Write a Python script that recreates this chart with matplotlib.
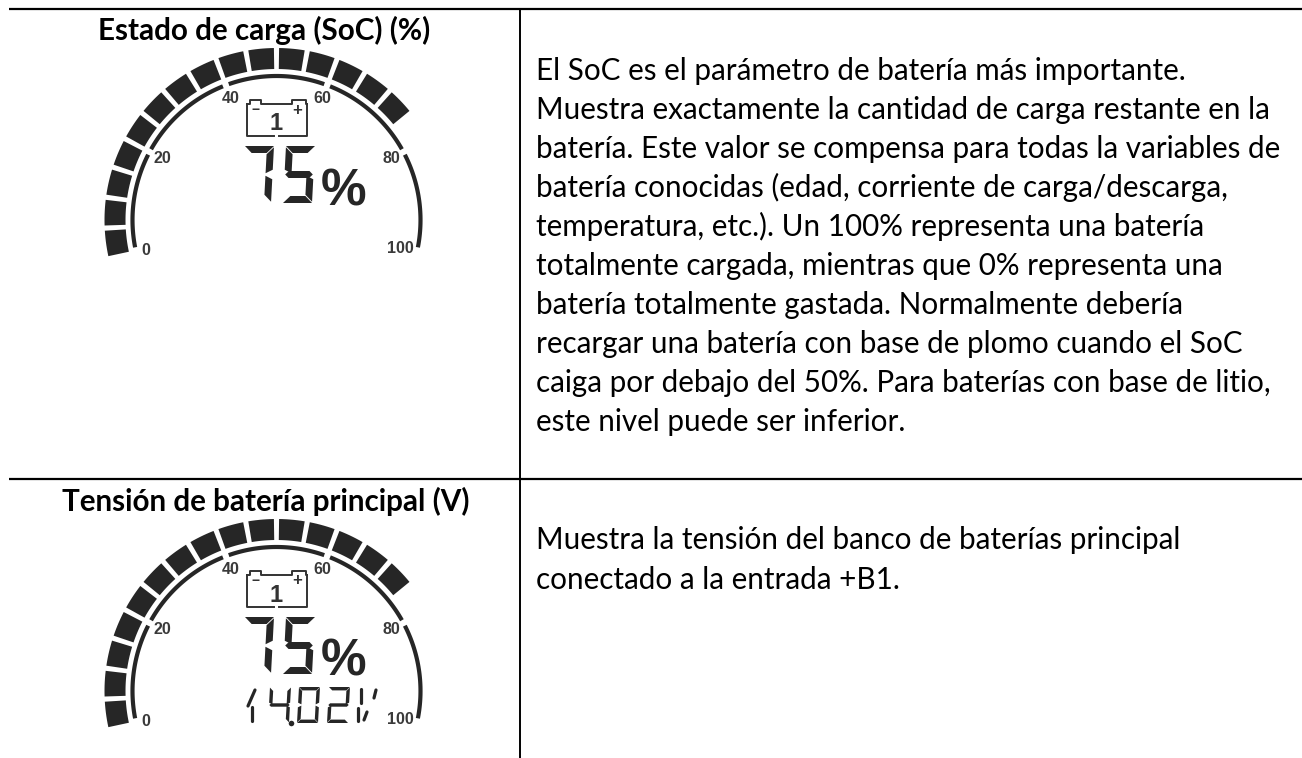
import numpy as np
import matplotlib
matplotlib.use("Agg")
import matplotlib.pyplot as plt

W, H = 1302, 758

titles = ["Estado de carga (SoC) (%)", "Tensión de batería principal (V)"]
body_1 = ["El SoC es el parámetro de batería más importante.",
          "Muestra exactamente la cantidad de carga restante en la",
          "batería. Este valor se compensa para todas la variables de",
          "batería conocidas (edad, corriente de carga/descarga,",
          "temperatura, etc.). Un 100% representa una batería",
          "totalmente cargada, mientras que 0% representa una",
          "batería totalmente gastada. Normalmente debería",
          "recargar una batería con base de plomo cuando el SoC",
          "caiga por debajo del 50%. Para baterías con base de litio,",
          "este nivel puede ser inferior."]
body_2 = ["Muestra la tensión del banco de baterías principal",
          "conectado a la entrada +B1."]

soc = 75
segment_step = 5
gauge_ticks = [0, 20, 40, 60, 80, 100]
voltage = ["1", "4", "0", "2", "V"]
voltage_x = [247, 268, 297, 327, 358]

INK = "#262626"
CX, CY = 276.5, 220
SEGMENTS = {"2": "abged", "4": "fgbc", "5": "afgcd", "7": "abc", "0": "abcdef"}


def ang(v):
    return np.radians(193 - 2.06 * v)


def seg_polys(w, h, t):
    m = h / 2
    g = t * 0.18
    return {
        "a": [(0, 0), (w, 0), (w - t, t), (t, t)],
        "d": [(t, h - t), (w - t, h - t), (w, h), (0, h)],
        "g": [(t * 0.6, m - t / 2), (w - t * 0.6, m - t / 2), (w - t * 0.1, m),
              (w - t * 0.6, m + t / 2), (t * 0.6, m + t / 2), (t * 0.1, m)],
        "b": [(w, g), (w, m - g - t / 2), (w - t, m - g), (w - t, t + g)],
        "c": [(w, m + g + t / 2), (w, h - g), (w - t, h - t - g), (w - t, m + g)],
        "f": [(0, g), (t, t + g), (t, m - g), (0, m - g - t / 2)],
        "e": [(0, m + g + t / 2), (t, m + g), (t, h - t - g), (0, h - g)],
    }


def draw_digit(ax, ch, x, y, w, h, t, slant):
    polys = seg_polys(w, h, t)
    for s in SEGMENTS[ch]:
        pts = np.array(polys[s], dtype=float)
        xs = x + pts[:, 0] + slant * (1 - pts[:, 1] / h)
        ax.fill(xs, y + pts[:, 1], color=INK, lw=0)


def stroke(ax, x, *pts, lw=2.3):
    for a, b in zip(pts[::2], pts[1::2]):
        ax.plot([x + a[0], x + b[0]], [a[1], b[1]],
                color=INK, lw=lw, solid_capstyle="round")


def draw_gauge(ax, dy):
    # lit blocks, one for each 5 %
    for v in range(0, soc, segment_step):
        a = np.linspace(ang(v + 0.42), ang(v + segment_step - 0.42), 8)
        xs = np.r_[CX + 172 * np.cos(a), CX + 151 * np.cos(a[::-1])]
        ys = np.r_[CY + dy - 172 * np.sin(a), CY + dy - 151 * np.sin(a[::-1])]
        ax.fill(xs, ys, color=INK, lw=0)

    # inner arc broken at the ticks
    for lo, hi in zip(gauge_ticks[:-1], gauge_ticks[1:]):
        a = np.linspace(ang(max(lo + 0.6, 1)), ang(min(hi - 0.6, 99)), 60)
        ax.plot(CX + 144 * np.cos(a), CY + dy - 144 * np.sin(a),
                color=INK, lw=3.0, solid_capstyle="butt")

    for tick, r in zip(gauge_ticks, [134, 130, 129.5, 130, 130, 127]):
        ax.text(CX + r * np.cos(ang(tick)), CY + dy - r * np.sin(ang(tick)), str(tick),
                ha="center", va="center", fontsize=11.5, fontweight="bold",
                family="Liberation Sans", color="#3a3a3a")

    # battery icon
    ax.plot([246.7, 246.7, 274], [104 + dy, 135.7 + dy, 135.7 + dy], color="#333333", lw=1.4)
    ax.plot([278.5, 307.3, 307.3], [135.7 + dy, 135.7 + dy, 104 + dy], color="#333333", lw=1.4)
    ax.plot([246.7, 250, 250, 261, 261, 292, 292, 306, 306, 307.3],
            [104 + dy, 104 + dy, 100 + dy, 100 + dy, 104 + dy, 104 + dy, 100 + dy, 100 + dy, 104 + dy, 104 + dy],
            color="#333333", lw=1.4)
    ax.text(256, 110 + dy, "\u2212", ha="center", va="center", fontsize=10, fontweight="bold",
            family="Liberation Sans", color="#333333")
    ax.text(297, 110 + dy, "+", ha="center", va="center", fontsize=12, fontweight="bold",
            family="Liberation Sans", color="#333333")
    ax.text(276.5, 130.5 + dy, "1", ha="center", va="baseline", fontsize=17, fontweight="bold",
            family="Liberation Sans", color="#333333")

    # big reading
    draw_digit(ax, str(soc)[0], 242, 146 + dy, 29, 57, 7, 3)
    draw_digit(ax, str(soc)[1], 283, 146 + dy, 29, 57, 7, 3)
    ax.text(344, 205 + dy, "%", ha="center", va="baseline", fontsize=37, fontweight="bold",
            family="Liberation Sans", color=INK)


fig = plt.figure(figsize=(W / 100, H / 100), dpi=100)
ax = fig.add_axes([0, 0, 1, 1])
ax.set_xlim(0, W)
ax.set_ylim(H, 0)
ax.axis("off")

# table rules
ax.plot([9, W], [8.5, 8.5], color="black", lw=1.6, solid_capstyle="butt")
ax.plot([9, W], [478.5, 478.5], color="black", lw=1.6, solid_capstyle="butt")
ax.plot([520, 520], [8.5, H], color="black", lw=1.4, solid_capstyle="butt")

ax.text(264, 40, titles[0], ha="center", va="baseline", fontsize=21.3, fontweight="bold",
        family="Lato", color="black")
ax.text(266, 511, titles[1], ha="center", va="baseline", fontsize=21.3, fontweight="bold",
        family="Lato", color="black")

for i, line in enumerate(body_1):
    ax.text(536, 80 + 39 * i, line, ha="left", va="baseline", fontsize=21.3,
            family="Lato", color="black")
for i, line in enumerate(body_2):
    ax.text(536, 549 + 40 * i, line, ha="left", va="baseline", fontsize=21.3,
            family="Lato", color="black")

draw_gauge(ax, 0)
draw_gauge(ax, 471)

# small voltage reading of the second gauge
for ch, x in zip(voltage, voltage_x):
    if ch in SEGMENTS:
        draw_digit(ax, ch, x, 687, 21, 36, 3.4, 2)
stroke(ax, voltage_x[0], (1, 706), (8, 690), (5, 707), (5, 721))
stroke(ax, voltage_x[4], (3, 689), (3, 703), (0, 708), (0, 721),
       (6, 720), (9, 712), (18, 690), (16, 698))
ax.plot([290.7], [722.5], "o", color=INK, ms=4, mew=0)

fig.savefig("out.png", dpi=100)
